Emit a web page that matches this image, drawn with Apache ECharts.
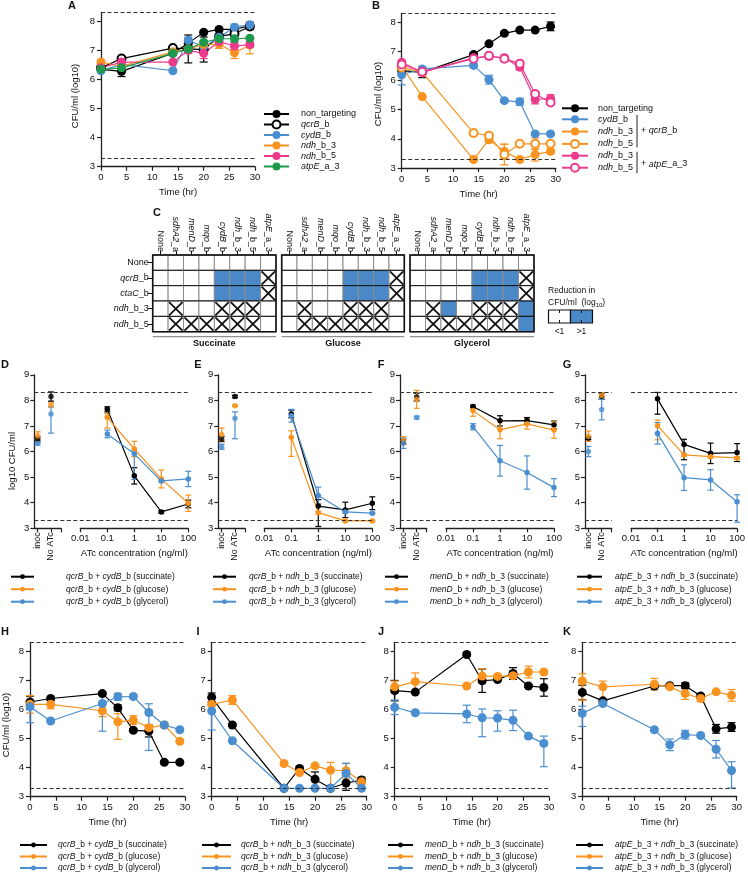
<!DOCTYPE html>
<html><head><meta charset="utf-8">
<script src="https://cdn.jsdelivr.net/npm/echarts@6/dist/echarts.min.js"></script>
<style>html,body{margin:0;padding:0;background:#fff}#c{width:748px;height:876px}</style>
</head><body><div id="c"></div>
<script>
// ================= DATA =================
const timeHr = [0, 4, 14, 17, 20, 23, 26, 29];

// Panel A
const A_nonTargeting = [6.35, 6.28, 6.9, 7.25, 7.62, 7.72, 7.72, 7.85];
const A_nonTargetingErr = [0.08, 0.18, 0.05, 0.08, 0.05, 0.05, 0.08, 0.12];
const A_qcrB = [6.4, 6.72, 7.08, 7.05, 7.03, 7.48, 7.57, 7.82];
const A_qcrBErr = [0.05, 0.05, 0.05, 0.48, 0.43, 0.1, 0.08, 0.1];
const A_cydB = [6.3, 6.52, 6.3, 7.35, 7.12, 7.45, 7.8, 7.88];
const A_cydBErr = [0.05, 0.05, 0.05, 0.1, 0.12, 0.08, 0.1, 0.08];
const A_ndh3 = [6.6, 6.45, 6.95, 7.05, 7.2, 7.22, 6.92, 7.18];
const A_ndh3Err = [0.05, 0.05, 0.05, 0.1, 0.1, 0.15, 0.2, 0.3];
const A_ndh5 = [6.4, 6.6, 6.6, 7.0, 6.9, 7.3, 7.15, 7.2];
const A_ndh5Err = [0.05, 0.05, 0.05, 0.1, 0.18, 0.1, 0.12, 0.1];
const A_atpE = [6.35, 6.4, 6.9, 7.05, 7.28, 7.4, 7.4, 7.42];
const A_atpEErr = [0.05, 0.05, 0.05, 0.05, 0.06, 0.05, 0.08, 0.05];

// Panel B
const B_nonTargeting = [6.34, 6.28, 6.89, 7.26, 7.62, 7.73, 7.73, 7.86];
const B_nonTargetingErr = [0.08, 0.18, 0.05, 0.05, 0.05, 0.05, 0.05, 0.15];
const B_cydB_qcrB = [6.2, 6.4, 6.52, 6.03, 5.31, 5.27, 4.17, 4.17];
const B_cydB_qcrBErr = [[0.35, 0.1], 0.06, 0.05, 0.15, 0.05, 0.12, 0.05, 0.05];
const B_ndh3_qcrB = [6.49, 5.45, 3.29, 3.97, 3.57, 3.29, 3.46, 3.57];
const B_ndh3_qcrBErr = [0.05, 0.05, 0.03, 0.1, 0.25, 0.03, 0.22, 0.08];
const B_ndh5_qcrB = [6.45, 6.28, 4.2, 4.11, 3.46, 3.83, 3.83, 3.83];
const B_ndh5_qcrBErr = [0.05, 0.05, 0.05, 0.05, 0.35, 0.05, 0.2, 0.05];
const B_ndh3_atpE = [6.63, 6.28, 6.78, 6.83, 6.78, 6.46, 5.35, 5.39];
const B_ndh3_atpEErr = [0.05, 0.05, 0.05, 0.1, 0.1, 0.1, 0.15, 0.12];
const B_ndh5_atpE = [6.55, 6.3, 6.75, 6.85, 6.75, 6.58, 5.54, 5.25];
const B_ndh5_atpEErr = [0.05, 0.05, 0.05, 0.05, 0.08, 0.05, 0.08, 0.05];

// Panel C (0 = <1 reduction, 1 = >1 reduction, 2 = not tested / X)
const heatCols = ['None', 'sdhA2_a', 'menD_b', 'mqo_b', 'cydB_b', 'ndh_b_3', 'ndh_b_5', 'atpE_a_3'];
const heatRows = ['None', 'qcrB_b', 'ctaC_b', 'ndh_b_3', 'ndh_b_5'];
const heatConditions = ['Succinate', 'Glucose', 'Glycerol'];
const succinateCells = [
  [0, 0, 0, 0, 0, 0, 0, 0],
  [0, 0, 0, 0, 1, 1, 1, 2],
  [0, 0, 0, 0, 1, 1, 1, 2],
  [0, 2, 0, 0, 2, 2, 2, 0],
  [0, 2, 2, 2, 2, 2, 2, 0]];
const glucoseCells = [
  [0, 0, 0, 0, 0, 0, 0, 0],
  [0, 0, 0, 0, 1, 1, 1, 2],
  [0, 0, 0, 0, 1, 1, 1, 2],
  [0, 2, 0, 0, 2, 2, 2, 0],
  [0, 2, 2, 2, 2, 2, 2, 0]];
const glycerolCells = [
  [0, 0, 0, 0, 0, 0, 0, 0],
  [0, 0, 0, 0, 1, 1, 1, 2],
  [0, 0, 0, 0, 1, 1, 1, 2],
  [0, 2, 1, 0, 2, 2, 2, 1],
  [0, 2, 2, 2, 2, 2, 2, 1]];

// Panels D-G : [inoc, No ATc, 0.1, 1, 10, 100 ng/ml]
const doseCtrlPos = [0, 1];
const doseCtrlLabels = ['inoc', 'No ATc'];
const atcConc = [0.1, 1, 10, 100];
const D_succ = [6.49, 8.15, 7.65, 5.05, 3.64, 3.95];
const D_succErr = [0.08, 0.18, 0.1, 0.32, 0.05, 0.15];
const D_gluc = [6.62, 7.82, 7.34, 6.1, 4.93, 3.98];
const D_glucErr = [0.15, 0.08, [0.42, 0.15], 0.3, 0.35, 0.32];
const D_glyc = [6.31, 7.47, 6.69, 5.91, 4.85, 4.93];
const D_glycErr = [0.05, [0.75, 0.28], 0.15, [1.0, 0.15], 0.05, 0.3];
const E_succ = [6.49, 8.15, 7.47, 3.87, 3.72, 3.98];
const E_succErr = [0.1, 0.05, 0.15, [0.8, 0.25], 0.3, 0.25];
const E_gluc = [6.67, 7.79, 6.56, 3.61, 3.29, 3.29];
const E_glucErr = [0.25, 0.03, [0.75, 0.25], 0.05, 0.02, 0.02];
const E_glyc = [6.19, 7.3, 7.4, 4.28, 3.64, 3.59];
const E_glycErr = [0.1, [0.8, 0.25], 0.25, 0.33, 0.05, 0.03];
const F_succ = [6.39, 8.13, 7.76, 7.2, 7.21, 7.04];
const F_succErr = [0.1, 0.15, 0.05, 0.2, 0.12, 0.15];
const F_gluc = [6.43, 8.04, 7.6, 6.85, 7.08, 6.84];
const F_glucErr = [0.15, 0.35, 0.22, 0.35, 0.2, 0.32];
const F_glyc = [6.32, 7.33, 6.97, 5.64, 5.18, 4.59];
const F_glycErr = [0.2, 0.05, 0.12, 0.6, 0.65, 0.35];
const G_succ = [6.52, 8.16, 8.06, 6.28, 5.93, 5.96];
const G_succErr = [0.05, 0.12, [0.6, 0.25], [0.6, 0.2], 0.4, 0.35];
const G_gluc = [6.6, 8.2, 7.01, 5.87, 5.8, 5.75];
const G_glucErr = [0.2, 0.1, [0.55, 0.22], 0.05, 0.05, 0.05];
const G_glyc = [6.0, 7.64, 6.71, 4.98, 4.89, 4.04];
const G_glycErr = [0.2, 0.4, 0.42, 0.5, 0.4, [0.8, 0.27]];

// Panels H-K (time courses, succinate / glucose / glycerol)
const H_succ = [6.25, 6.37, 6.54, 6.05, 5.28, 5.25, 4.18, 4.18];
const H_succErr = [0.2, 0.05, 0.05, 0.1, 0.05, 0.2, 0.05, 0.05];
const H_gluc = [6.17, 6.17, 5.95, 5.57, 5.63, 5.37, 5.46, 4.9];
const H_glucErr = [0.3, 0.15, 0.2, [0.6, 0.28], 0.15, 0.1, 0.08, 0.05];
const H_glyc = [6.09, 5.6, 6.2, 6.43, 6.44, 5.89, 5.46, 5.3];
const H_glycErr = [[0.55, 0.2], 0.05, [0.95, 0.3], 0.12, 0.05, [1.3, 0.3], 0.05, 0.05];
const I_succ = [6.41, 5.46, 3.29, 3.97, 3.6, 3.29, 3.47, 3.57];
const I_succErr = [0.15, 0.05, 0.02, 0.05, 0.25, 0.02, 0.25, 0.1];
const I_gluc = [6.17, 6.32, 4.14, 3.83, 4.06, 3.91, 3.89, 3.51];
const I_glucErr = [0.05, 0.15, 0.05, 0.05, 0.05, [0.6, 0.27], 0.25, 0.1];
const I_glyc = [5.94, 4.92, 3.29, 3.29, 3.29, 3.29, 3.8, 3.29];
const I_glycErr = [[0.65, 0.3], 0.05, 0.02, 0.02, 0.02, 0.02, 0.35, 0.02];
const J_succ = [6.64, 6.59, 7.88, 6.98, 7.02, 7.23, 6.8, 6.75];
const J_succErr = [0.35, 0.05, 0.05, 0.4, 0.05, 0.2, 0.05, 0.3];
const J_gluc = [6.77, 6.95, 6.8, 7.14, 7.13, 7.15, 7.28, 7.28];
const J_glucErr = [0.2, 0.3, 0.02, 0.25, 0.05, 0.05, 0.2, 0.05];
const J_glyc = [6.07, 5.88, 5.84, 5.71, 5.7, 5.62, 5.08, 4.83];
const J_glycErr = [0.25, 0.05, 0.3, [0.65, 0.3], [0.45, 0.25], 0.35, 0.05, [0.8, 0.25]];
const K_succ = [6.58, 6.29, 6.8, 6.81, 6.81, 6.46, 5.33, 5.39];
const K_succErr = [0.25, 0.05, 0.05, 0.05, 0.1, 0.05, 0.15, 0.15];
const K_gluc = [6.97, 6.77, 6.86, 6.77, 6.54, 6.37, 6.6, 6.48];
const K_glucErr = [[0.65, 0.25], [0.45, 0.2], 0.2, 0.05, 0.2, 0.1, 0.05, 0.2];
const K_glyc = [5.86, 6.2, 5.3, 4.78, 5.13, 5.1, 4.63, 3.9];
const K_glycErr = [[0.45, 0.25], 0.05, 0.05, 0.2, 0.15, 0.05, 0.3, [0.6, 0.3]];

// ================= STYLE / HELPERS =================
const BLACK = '#000000', ORANGE = '#F7931E', BLUE = '#4A8ED0', PINK = '#EC3B8D', GREEN = '#1E9A4D', HEATBLUE = '#4A88C7';
const FONT = '"Liberation Sans", Arial, Helvetica, sans-serif';
const AXC = '#222';
const TXT = '#111';
const AXL = {color: AXC, width: 1.3};
const AXT = {color: AXC, width: 1.2};
const DASH = {type: [4, 2.5], color: '#333', width: 1.2};

const LABELS = {
  A_nt: 'non_targeting', A_qcrB: '{i|qcrB}_b', A_cydB: '{i|cydB}_b', A_ndh3: '{i|ndh}_b_3', A_ndh5: '{i|ndh}_b_5', A_atpE: '{i|atpE}_a_3',
  B_nt: 'non_targeting', B_cydB: '{i|cydB}_b', B_ndh3q: '{i|ndh}_b_3', B_ndh5q: '{i|ndh}_b_5', B_ndh3a: '{i|ndh}_b_3', B_ndh5a: '{i|ndh}_b_5'
};
function combo(a, b, cond) { return a + ' + ' + b + ' (' + cond + ')'; }
const P_QC = '{i|qcrB}_b', P_CY = '{i|cydB}_b', P_ND = '{i|ndh}_b_3', P_MD = '{i|menD}_b', P_AE = '{i|atpE}_b_3';
const pairs = {D: [P_QC, P_CY], E: [P_QC, P_ND], F: [P_MD, P_ND], G: [P_AE, P_ND], H: [P_QC, P_CY], I: [P_QC, P_ND], J: [P_MD, P_ND], K: [P_AE, P_ND]};
Object.keys(pairs).forEach(k => {
  LABELS[k + '_s'] = combo(pairs[k][0], pairs[k][1], 'succinate');
  LABELS[k + '_g'] = combo(pairs[k][0], pairs[k][1], 'glucose');
  LABELS[k + '_y'] = combo(pairs[k][0], pairs[k][1], 'glycerol');
});

const grids = [], xAxes = [], yAxes = [], series = [], legends = [], graphics = [];

function errPts(xs, vals, errs) {
  const out = [];
  xs.forEach((x, i) => {
    const e = errs[i]; if (!e) return;
    const lo = Array.isArray(e) ? e[0] : e, hi = Array.isArray(e) ? e[1] : e;
    out.push([x, vals[i] - lo, vals[i] + hi]);
  });
  return out;
}
function errSeries(xi, yi, pts, color, cap) {
  return {
    type: 'custom', xAxisIndex: xi, yAxisIndex: yi, silent: true, z: 3, clip: false, data: pts,
    encode: {x: 0, y: [1, 2]},
    renderItem: (params, api) => {
      const x = api.value(0), lo = api.value(1), hi = api.value(2);
      const p1 = api.coord([x, lo]), p2 = api.coord([x, hi]);
      const s = {stroke: color, lineWidth: 1.2};
      return {type: 'group', children: [
        {type: 'line', shape: {x1: p1[0], y1: p1[1], x2: p2[0], y2: p2[1]}, style: s},
        {type: 'line', shape: {x1: p1[0] - cap, y1: p1[1], x2: p1[0] + cap, y2: p1[1]}, style: s},
        {type: 'line', shape: {x1: p2[0] - cap, y1: p2[1], x2: p2[0] + cap, y2: p2[1]}, style: s}
      ]};
    }
  };
}
// firstRow = y of the first row centre
function addLegend(names, left, firstRow, rowH, itemW, itemH, pad, fs) {
  legends.push({
    show: true, data: names, left: left, top: firstRow - rowH / 2, orient: 'vertical', itemWidth: itemW, itemHeight: itemH,
    itemGap: 0, padding: 0, selectedMode: false, formatter: n => LABELS[n],
    textStyle: {fontSize: fs, fontFamily: FONT, color: TXT, lineHeight: rowH, padding: [0, 0, 0, pad],
      rich: {i: {fontStyle: 'italic', fontSize: fs, fontFamily: FONT, color: TXT, lineHeight: rowH}}}
  });
}
function txt(x, y, text, opts) {
  opts = opts || {};
  graphics.push({type: 'text', x: x, y: y, rotation: opts.rot || 0, z: 100, silent: true,
    style: {text: text, fontSize: opts.fs || 9, fontFamily: FONT, fill: TXT, fontWeight: opts.bold ? 'bold' : 'normal',
      align: opts.align || 'left', verticalAlign: opts.va || 'middle',
      rich: {i: {fontStyle: 'italic', fontSize: opts.fs || 9, fontFamily: FONT, fill: TXT},
             s: {fontSize: 6, fontFamily: FONT, fill: TXT, padding: [5, 0, 0, 0]},
             n: {fontSize: opts.fs || 9, fontFamily: FONT, fill: TXT}}}});
}
function gline(x1, y1, x2, y2, color, w) {
  graphics.push({type: 'line', z: 100, silent: true, shape: {x1, y1, x2, y2}, style: {stroke: color, lineWidth: w}});
}

function timePanel(box, defs) {
  const gi = grids.length;
  grids.push({left: box[0], top: box[1], width: box[2], height: box[3]});
  xAxes.push({gridIndex: gi, type: 'value', min: 0, max: 30, interval: 5,
    axisLine: {show: true, onZero: false, lineStyle: AXL}, axisTick: {show: true, length: 4, lineStyle: AXT},
    axisLabel: {fontSize: 9.5, color: TXT, margin: 6, fontFamily: FONT}, splitLine: {show: false},
    name: 'Time (hr)', nameLocation: 'middle', nameGap: 21, nameTextStyle: {fontSize: 9.5, color: TXT, fontFamily: FONT}});
  yAxes.push({gridIndex: gi, type: 'value', min: 3, max: 8.3,
    axisLine: {show: true, onZero: false, lineStyle: AXL},
    axisTick: {show: true, length: 4, customValues: [3, 4, 5, 6, 7, 8], lineStyle: AXT},
    axisLabel: {fontSize: 9.5, color: TXT, margin: 6, customValues: [3, 4, 5, 6, 7, 8], fontFamily: FONT},
    splitLine: {show: false}});
  const xi = xAxes.length - 1, yi = yAxes.length - 1;
  defs.forEach((d, k) => {
    const s = {name: d.name, type: 'line', xAxisIndex: xi, yAxisIndex: yi, data: timeHr.map((t, i) => [t, d.vals[i]]),
      symbol: d.empty ? 'emptyCircle' : 'circle', symbolSize: d.empty ? 8 : 9, showSymbol: true, clip: false, z: 4,
      lineStyle: {color: d.color, width: 1.2}, itemStyle: {color: d.color, borderColor: d.color, borderWidth: d.empty ? 1.4 : 0},
      emphasis: {disabled: true}};
    if (k === 0) s.markLine = {silent: true, symbol: 'none', label: {show: false}, lineStyle: DASH, data: [{yAxis: 8.3}, {yAxis: 3.3}]};
    series.push(s);
    series.push(errSeries(xi, yi, errPts(timeHr, d.vals, d.err), d.color, 4));
  });
}

function dosePanel(x0, defs, continuousDash) {
  const top = 374.8, h = 153.5, lw = 26.7, rx = x0 + 46, rw = 108;
  let gi = grids.length;
  grids.push({left: x0, top: top, width: lw, height: h});
  xAxes.push({gridIndex: gi, type: 'value', min: -0.25, max: 1.75,
    axisLine: {show: true, onZero: false, lineStyle: AXL},
    axisTick: {show: true, length: 4, customValues: [0, 1, 1.75], lineStyle: AXT},
    axisLabel: {show: true, customValues: doseCtrlPos, rotate: 90, margin: 4, fontSize: 9, color: TXT, fontFamily: FONT,
      formatter: v => doseCtrlLabels[doseCtrlPos.indexOf(v)]},
    splitLine: {show: false}});
  yAxes.push({gridIndex: gi, type: 'value', min: 3, max: 9, interval: 1,
    axisLine: {show: true, onZero: false, lineStyle: AXL}, axisTick: {show: true, length: 4, lineStyle: AXT},
    axisLabel: {fontSize: 9.5, color: TXT, margin: 5, fontFamily: FONT}, splitLine: {show: false}});
  const lx = xAxes.length - 1, ly = yAxes.length - 1;
  gi = grids.length;
  grids.push({left: rx, top: top, width: rw, height: h});
  xAxes.push({gridIndex: gi, type: 'log', logBase: 10, min: 0.01, max: 100, splitNumber: 4,
    axisLine: {show: true, onZero: false, lineStyle: AXL}, axisTick: {show: true, length: 4, lineStyle: AXT},
    axisLabel: {fontSize: 9.5, color: TXT, margin: 5, fontFamily: FONT, formatter: v => String(+(+v).toPrecision(3))},
    splitLine: {show: false}, minorTick: {show: false},
    name: 'ATc concentration (ng/ml)', nameLocation: 'middle', nameGap: 20, nameTextStyle: {fontSize: 9.5, color: TXT, fontFamily: FONT}});
  yAxes.push({gridIndex: gi, type: 'value', min: 3, max: 9, show: false});
  const rxi = xAxes.length - 1, ryi = yAxes.length - 1;
  const mk = {silent: true, symbol: 'none', label: {show: false}, lineStyle: DASH, data: [{yAxis: 8.3}, {yAxis: 3.3}]};
  defs.forEach((d, k) => {
    const sc = {type: 'scatter', xAxisIndex: lx, yAxisIndex: ly, data: doseCtrlPos.map((p, i) => [p, d.vals[i]]),
      symbolSize: 5.5, itemStyle: {color: d.color}, clip: false, z: 4, silent: true};
    const ln = {name: d.name, type: 'line', xAxisIndex: rxi, yAxisIndex: ryi, data: atcConc.map((c, i) => [c, d.vals[i + 2]]),
      symbol: 'circle', symbolSize: 5.5, clip: false, z: 4, lineStyle: {color: d.color, width: 1.2}, itemStyle: {color: d.color},
      emphasis: {disabled: true}};
    if (k === 0 && !continuousDash) { sc.markLine = mk; ln.markLine = mk; }
    series.push(ln);
    series.push(sc);
    series.push(errSeries(lx, ly, errPts(doseCtrlPos, d.vals.slice(0, 2), d.err.slice(0, 2)), d.color, 3));
    series.push(errSeries(rxi, ryi, errPts(atcConc, d.vals.slice(2), d.err.slice(2)), d.color, 3));
  });
  if (continuousDash) {
    gi = grids.length;
    grids.push({left: x0, top: top, width: 154, height: h});
    xAxes.push({gridIndex: gi, type: 'value', min: 0, max: 1, show: false});
    yAxes.push({gridIndex: gi, type: 'value', min: 3, max: 9, show: false});
    series.push({type: 'line', xAxisIndex: xAxes.length - 1, yAxisIndex: yAxes.length - 1, data: [[0, 8.3]],
      symbol: 'none', showSymbol: false, silent: true, markLine: mk});
  }
}

function geneRich(v) {
  if (v === 'None') return 'None';
  const k = v.indexOf('_');
  return '{i|' + v.slice(0, k) + '}' + v.slice(k);
}
function heatRender(params, api) {
  const c = api.value(0), r = api.value(1), v = api.value(2);
  const p = api.coord([c, r]), sz = api.size([1, 1]);
  const w = sz[0], h = sz[1], x = p[0] - w / 2, y = p[1] - h / 2;
  const ch = [
    {type: 'rect', shape: {x: x, y: y, width: w, height: h}, style: {fill: v === 1 ? HEATBLUE : '#ffffff'}},
    {type: 'line', shape: {x1: x, y1: y, x2: x, y2: y + h}, style: {stroke: '#8c8c8c', lineWidth: 1}},
    {type: 'line', shape: {x1: x + w, y1: y, x2: x + w, y2: y + h}, style: {stroke: '#8c8c8c', lineWidth: 1}},
    {type: 'line', shape: {x1: x, y1: y, x2: x + w, y2: y}, style: {stroke: '#111', lineWidth: 1}},
    {type: 'line', shape: {x1: x, y1: y + h, x2: x + w, y2: y + h}, style: {stroke: '#111', lineWidth: 1}}
  ];
  if (v === 2) {
    ch.push({type: 'line', shape: {x1: x + 1, y1: y + 1, x2: x + w - 1, y2: y + h - 1}, style: {stroke: '#111', lineWidth: 1.8}});
    ch.push({type: 'line', shape: {x1: x + w - 1, y1: y + 1, x2: x + 1, y2: y + h - 1}, style: {stroke: '#111', lineWidth: 1.8}});
  }
  return {type: 'group', children: ch};
}
function heatPanel(left, width, cells, showRows, title) {
  const top = 255, height = 76.7;
  const gi = grids.length;
  grids.push({left: left, top: top, width: width, height: height});
  xAxes.push({gridIndex: gi, type: 'category', data: heatCols, position: 'top',
    axisLine: {show: false}, axisTick: {show: true, alignWithLabel: true, length: 4, lineStyle: {color: '#111', width: 1}},
    axisLabel: {rotate: 90, interval: 0, fontSize: 9, margin: 3, color: TXT, fontFamily: FONT, formatter: geneRich,
      rich: {i: {fontStyle: 'italic', fontSize: 9, fontFamily: FONT, color: TXT}}}, splitLine: {show: false}});
  yAxes.push({gridIndex: gi, type: 'category', data: heatRows, inverse: true, axisLine: {show: false},
    axisTick: {show: showRows, alignWithLabel: true, length: 5, lineStyle: {color: '#111', width: 1}},
    axisLabel: {show: showRows, interval: 0, fontSize: 9, margin: 4, color: TXT, fontFamily: FONT, formatter: geneRich,
      rich: {i: {fontStyle: 'italic', fontSize: 9, fontFamily: FONT, color: TXT}}}, splitLine: {show: false}});
  const data = [];
  cells.forEach((row, r) => row.forEach((v, c) => data.push([c, r, v])));
  series.push({type: 'custom', xAxisIndex: xAxes.length - 1, yAxisIndex: yAxes.length - 1, data: data,
    encode: {x: 0, y: 1}, renderItem: heatRender, silent: true, z: 2});
  graphics.push({type: 'rect', z: 100, silent: true, shape: {x: left, y: top, width: width, height: height},
    style: {fill: 'none', stroke: '#111', lineWidth: 1.6}});
  gline(left, 336.7, left + width, 336.7, '#777', 1);
  txt(left + width / 2, 344, title, {align: 'center', bold: true, fs: 9});
}

// ================= BUILD =================
timePanel([101, 12.6, 154, 154.1], [
  {name: 'A_nt', vals: A_nonTargeting, err: A_nonTargetingErr, color: BLACK},
  {name: 'A_qcrB', vals: A_qcrB, err: A_qcrBErr, color: BLACK, empty: true},
  {name: 'A_cydB', vals: A_cydB, err: A_cydBErr, color: BLUE},
  {name: 'A_ndh3', vals: A_ndh3, err: A_ndh3Err, color: ORANGE},
  {name: 'A_ndh5', vals: A_ndh5, err: A_ndh5Err, color: PINK},
  {name: 'A_atpE', vals: A_atpE, err: A_atpEErr, color: GREEN}
]);
timePanel([401.7, 13.5, 154, 154.5], [
  {name: 'B_nt', vals: B_nonTargeting, err: B_nonTargetingErr, color: BLACK},
  {name: 'B_cydB', vals: B_cydB_qcrB, err: B_cydB_qcrBErr, color: BLUE},
  {name: 'B_ndh3q', vals: B_ndh3_qcrB, err: B_ndh3_qcrBErr, color: ORANGE},
  {name: 'B_ndh5q', vals: B_ndh5_qcrB, err: B_ndh5_qcrBErr, color: ORANGE, empty: true},
  {name: 'B_ndh3a', vals: B_ndh3_atpE, err: B_ndh3_atpEErr, color: PINK},
  {name: 'B_ndh5a', vals: B_ndh5_atpE, err: B_ndh5_atpEErr, color: PINK, empty: true}
]);

heatPanel(152.7, 123.3, succinateCells, true, heatConditions[0]);
heatPanel(281.7, 122.6, glucoseCells, false, heatConditions[1]);
heatPanel(410, 124, glycerolCells, false, heatConditions[2]);

function triple(p, s, se, g, ge, y, ye) {
  return [
    {name: p + '_s', vals: s, err: se, color: BLACK},
    {name: p + '_g', vals: g, err: ge, color: ORANGE},
    {name: p + '_y', vals: y, err: ye, color: BLUE}];
}
dosePanel(34.3, triple('D', D_succ, D_succErr, D_gluc, D_glucErr, D_glyc, D_glycErr), true);
dosePanel(218.3, triple('E', E_succ, E_succErr, E_gluc, E_glucErr, E_glyc, E_glycErr), true);
dosePanel(400, triple('F', F_succ, F_succErr, F_gluc, F_glucErr, F_glyc, F_glycErr), true);
dosePanel(585, triple('G', G_succ, G_succErr, G_gluc, G_glucErr, G_glyc, G_glycErr), false);

timePanel([30, 642.3, 155, 154.4], triple('H', H_succ, H_succErr, H_gluc, H_glucErr, H_glyc, H_glycErr));
timePanel([211.7, 642.3, 155, 154.4], triple('I', I_succ, I_succErr, I_gluc, I_glucErr, I_glyc, I_glycErr));
timePanel([394.7, 642.3, 154.3, 154.4], triple('J', J_succ, J_succErr, J_gluc, J_glucErr, J_glyc, J_glycErr));
timePanel([582.3, 642.3, 154.4, 154.4], triple('K', K_succ, K_succErr, K_gluc, K_glucErr, K_glyc, K_glycErr));

// legends (x, first-row centre y, row height, icon w/h, text padding, font size)
addLegend(['A_nt', 'A_qcrB', 'A_cydB', 'A_ndh3', 'A_ndh5', 'A_atpE'], 263, 114, 10.5, 25, 10, 7, 9);
addLegend(['B_nt'], 561, 108.3, 12, 26, 10, 5, 9);
addLegend(['B_cydB', 'B_ndh3q', 'B_ndh5q'], 561, 119.3, 12.3, 26, 10, 5, 9);
addLegend(['B_ndh3a', 'B_ndh5a'], 561, 155.7, 12, 26, 10, 5, 9);
addLegend(['D_s', 'D_g', 'D_y'], 10, 576.7, 12.5, 23, 6, 27, 8.5);
addLegend(['E_s', 'E_g', 'E_y'], 212, 576.7, 12.5, 23, 6, 8, 8.5);
addLegend(['F_s', 'F_g', 'F_y'], 384, 576.7, 12.5, 23, 6, 17, 8.5);
addLegend(['G_s', 'G_g', 'G_y'], 576, 576.7, 12.5, 25, 6, 8, 8.5);
addLegend(['H_s', 'H_g', 'H_y'], 19, 845, 11.5, 27, 6, 6, 8.5);
addLegend(['I_s', 'I_g', 'I_y'], 201, 845, 11.5, 29, 6, 5, 8.5);
addLegend(['J_s', 'J_g', 'J_y'], 387, 845, 11.5, 25, 6, 7, 8.5);
addLegend(['K_s', 'K_g', 'K_y'], 575, 845, 11.5, 27, 6, 7, 8.5);

// B legend brackets
gline(637, 115, 637, 147.3, '#222', 1);
txt(641, 130.7, '+ {i|qcrB}_b', {fs: 9});
gline(637, 151.7, 637, 173.3, '#222', 1);
txt(641, 164, '+ {i|atpE}_a_3', {fs: 9});

// Panel letters
[['A', 72, 6], ['B', 376, 6], ['C', 157, 213], ['D', 5, 365], ['E', 198, 365], ['F', 381, 365], ['G', 567, 365],
 ['H', 5, 632], ['I', 198, 632], ['J', 381, 632], ['K', 567, 632]].forEach(l => txt(l[1], l[2], l[0], {bold: true, fs: 11, align: 'center'}));

// Axis titles (rotated)
txt(75, 96, 'CFU/ml (log10)', {rot: Math.PI / 2, align: 'center', fs: 9.5});
txt(378, 94, 'CFU/ml (log10)', {rot: Math.PI / 2, align: 'center', fs: 9.5});
txt(12, 461, 'log10 CFU/ml', {rot: Math.PI / 2, align: 'center', fs: 9.5});
txt(6, 725, 'CFU/ml (log10)', {rot: Math.PI / 2, align: 'center', fs: 9.5});

// Panel C legend
txt(548, 291, 'Reduction in', {fs: 8.5});
txt(548, 303, '{n|CFU/ml  (log}{s|10}{n|)}', {fs: 8.5});
graphics.push({type: 'rect', z: 100, silent: true, shape: {x: 548.5, y: 310, width: 22, height: 13}, style: {fill: '#ffffff', stroke: '#111', lineWidth: 1.2}});
graphics.push({type: 'rect', z: 100, silent: true, shape: {x: 570.5, y: 310, width: 22, height: 13}, style: {fill: HEATBLUE, stroke: '#111', lineWidth: 1.2}});
gline(559.5, 310, 559.5, 313, '#111', 1); gline(559.5, 320, 559.5, 323, '#111', 1);
gline(581.5, 310, 581.5, 313, '#111', 1); gline(581.5, 320, 581.5, 323, '#111', 1);
txt(559.5, 332, '<1', {fs: 8.5, align: 'center'});
txt(581.5, 332, '>1', {fs: 8.5, align: 'center'});

const chart = echarts.init(document.getElementById('c'), null, {renderer: 'canvas'});
chart.setOption({
  animation: false, backgroundColor: '#ffffff',
  textStyle: {fontFamily: FONT},
  grid: grids, xAxis: xAxes, yAxis: yAxes, series: series, legend: legends, graphic: {elements: graphics}
});
</script></body></html>
